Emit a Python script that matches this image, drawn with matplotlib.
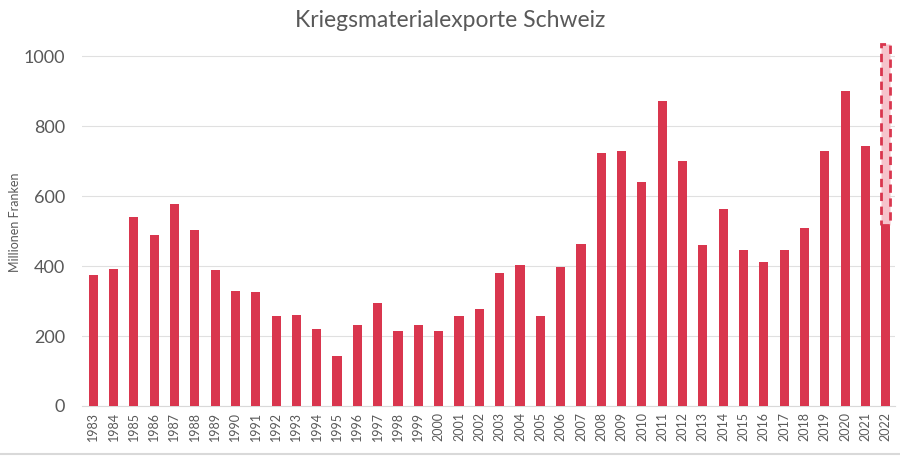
import matplotlib.pyplot as plt
import numpy as np

plt.rcParams['font.family'] = ['Lato', 'DejaVu Sans']

years = [str(y) for y in range(1983, 2023)]
exports = [375, 391, 541, 490, 578, 504, 390, 330, 327, 258,
           259, 220, 142, 232, 293, 213, 231, 214, 257, 276,
           380, 403, 258, 398, 464, 722, 728, 640, 872, 700,
           461, 563, 447, 411, 447, 509, 728, 901, 742, 517]
# 2022: projected range shown as dashed box on top of the bar
proj_low = 517
proj_high = 1035

red = '#d9364e'

fig = plt.figure(figsize=(9, 4.57), dpi=100)
ax = fig.add_axes([0.0911, 0.1116, 0.9033, 0.804])

x = np.arange(len(years))
ax.bar(x, exports, width=0.45, color=red, zorder=3)
ax.bar(x[-1], proj_high - proj_low, bottom=proj_low, width=0.45,
       facecolor='#f6c3cb', edgecolor=red, linestyle=(0, (3, 2)), linewidth=2, zorder=4)

ax.set_xlim(-0.55, len(years) - 0.55)
ax.set_ylim(0, 1050)
ax.set_yticks([0, 200, 400, 600, 800, 1000])
ax.yaxis.grid(True, color='#e0e0e0', linewidth=0.8, zorder=0)
ax.set_xticks(x)
ax.set_xticklabels(years, rotation=90, fontsize=9, color='#595959')
ax.tick_params(axis='y', labelsize=13, colors='#595959', length=0, pad=12)
ax.tick_params(axis='x', length=0, pad=4)

for s in ['top', 'right', 'left']:
    ax.spines[s].set_visible(False)
ax.spines['bottom'].set_color('#d9d9d9')

ax.set_ylabel('Millionen Franken', fontsize=9, color='#595959', labelpad=2)
fig.suptitle('Kriegsmaterialexporte Schweiz', fontsize=16.5, color='#595959', y=0.978)

fig.add_artist(plt.Line2D([0, 1], [0.006, 0.006], color='#d9d9d9', linewidth=1.5))

fig.savefig('out.png', dpi=100)
